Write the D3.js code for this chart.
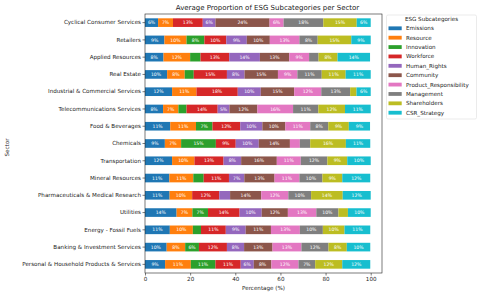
<!DOCTYPE html>
<html><head><meta charset="utf-8">
<script src="https://cdn.jsdelivr.net/npm/d3@7"></script>
<style>body{margin:0;background:#fff}svg{display:block;font-family:"DejaVu Sans",sans-serif}</style>
</head><body><svg id="c" width="480" height="295"></svg>
<script>
const sectors = ["Cyclical Consumer Services","Retailers","Applied Resources","Real Estate","Industrial & Commercial Services","Telecommunications Services","Food & Beverages","Chemicals","Transportation","Mineral Resources","Pharmaceuticals & Medical Research","Utilities","Energy - Fossil Fuels","Banking & Investment Services","Personal & Household Products & Services"];
const subcategories = ["Emissions","Resource","Innovation","Workforce","Human_Rights","Community","Product_Responsibility","Management","Shareholders","CSR_Strategy"];
const emissions = [5.8, 8.6, 8.2, 9.8, 12.0, 8.0, 11.2, 8.8, 12.0, 10.8, 10.9, 14.0, 11.0, 9.6, 8.9];
const resource = [6.6, 9.8, 11.8, 7.8, 10.8, 6.8, 11.4, 7.2, 9.9, 10.6, 10.0, 7.0, 10.2, 8.2, 11.4];
const innovation = [0, 7.9, 4.6, 4.0, 0, 3.6, 7.3, 15.4, 0, 4.6, 0, 6.9, 3.6, 6.1, 10.9];
const workforce = [13.2, 9.7, 12.7, 14.7, 18.3, 13.8, 12.3, 8.8, 12.9, 11.2, 12.0, 14.0, 11.0, 12.4, 11.2];
const humanRights = [5.6, 9.1, 13.6, 7.8, 10.2, 5.2, 9.8, 10.2, 7.8, 6.8, 4.8, 9.8, 8.8, 7.6, 5.8];
const community = [24.0, 10.2, 13.0, 14.8, 14.8, 12.4, 10.2, 13.8, 15.8, 13.4, 13.8, 11.6, 11.2, 12.6, 7.8];
const productResponsibility = [6.2, 13.1, 8.8, 8.6, 12.0, 15.8, 11.0, 4.4, 10.6, 11.0, 12.0, 12.6, 12.8, 12.8, 12.0];
const management = [17.6, 8.1, 4.2, 10.8, 12.8, 11.2, 8.0, 4.6, 11.8, 10.2, 10.1, 9.8, 10.2, 12.0, 7.4];
const shareholders = [14.8, 14.9, 8.4, 10.6, 2.8, 11.8, 9.1, 15.8, 8.8, 8.8, 14.0, 4.2, 9.6, 8.1, 12.0];
const csrStrategy = [6.2, 8.6, 14.4, 11.1, 6.3, 11.4, 9.4, 10.8, 10.4, 12.4, 12.4, 10.1, 11.4, 10.4, 12.4];
const xTicks = [0, 20, 40, 60, 80, 100];

const seriesValues = [emissions, resource, innovation, workforce, humanRights, community, productResponsibility, management, shareholders, csrStrategy];
const colors = ["#1f77b4","#ff7f0e","#2ca02c","#d62728","#9467bd","#8c564b","#e377c2","#7f7f7f","#bcbd22","#17becf"];

const table = sectors.map((s, i) => {
  const row = {sector: s};
  subcategories.forEach((k, j) => row[k] = seriesValues[j][i]);
  return row;
});
const stacked = d3.stack().keys(subcategories)(table);

const svg = d3.select("#c");
const L = 145, R = 382, T = 14, B = 273;
const x = d3.scaleLinear().domain([0, 105]).range([L, R]);
const y = d3.scaleBand().domain(sectors).range([T, B]).paddingInner(0.5).paddingOuter(0.25);
const color = d3.scaleOrdinal().domain(subcategories).range(colors);

const g = svg.append("g");
stacked.forEach(layer => {
  const lg = g.append("g").attr("fill", color(layer.key));
  lg.selectAll("rect").data(layer).join("rect")
    .attr("x", d => x(d[0]))
    .attr("width", d => x(d[1]) - x(d[0]))
    .attr("y", d => y(d.data.sector))
    .attr("height", y.bandwidth());
});
stacked.forEach(layer => {
  svg.append("g").selectAll("text").data(layer.filter(d => d[1] - d[0] >= 5)).join("text")
    .attr("x", d => (x(d[0]) + x(d[1])) / 2)
    .attr("y", d => y(d.data.sector) + y.bandwidth() / 2)
    .attr("dy", "0.35em")
    .attr("text-anchor", "middle")
    .attr("fill", "#fff")
    .attr("font-size", 4.6)
    .text(d => Math.round(d[1] - d[0]) + "%");
});

// frame
svg.append("rect").attr("x", L).attr("y", T).attr("width", R - L).attr("height", B - T)
  .attr("fill", "none").attr("stroke", "#222").attr("stroke-width", 0.6);

const xAxis = svg.append("g").attr("transform", `translate(0,${B})`)
  .call(d3.axisBottom(x).tickValues(xTicks).tickSize(2.5).tickPadding(1.5));
const yAxis = svg.append("g").attr("transform", `translate(${L},0)`)
  .call(d3.axisLeft(y).tickSize(2.5).tickPadding(1.5));
[xAxis, yAxis].forEach(a => {
  a.select(".domain").remove();
  a.selectAll("line").attr("stroke", "#222").attr("stroke-width", 0.6);
  a.selectAll("text").attr("font-size", 5.6).attr("fill", "#222").attr("font-family", "DejaVu Sans");
});

svg.append("text").attr("x", (L + R) / 2 + 4).attr("y", 10).attr("text-anchor", "middle")
  .attr("font-size", 7).attr("fill", "#222").text("Average Proportion of ESG Subcategories per Sector");
svg.append("text").attr("x", (L + R) / 2).attr("y", 290).attr("text-anchor", "middle")
  .attr("font-size", 5.6).attr("fill", "#222").text("Percentage (%)");
svg.append("text").attr("transform", `translate(9,${(T + B) / 2 + 4}) rotate(-90)`).attr("text-anchor", "middle")
  .attr("font-size", 5.6).attr("fill", "#222").text("Sector");

// legend
const lgd = svg.append("g");
lgd.append("rect").attr("x", 386.5).attr("y", 15).attr("width", 90).attr("height", 104).attr("rx", 1.5)
  .attr("fill", "#fff").attr("stroke", "#ddd").attr("stroke-width", 0.6);
lgd.append("text").attr("x", 431.5).attr("y", 19.5).attr("dy", "0.35em").attr("text-anchor", "middle")
  .attr("font-size", 5.6).attr("fill", "#222").text("ESG Subcategories");
const items = lgd.selectAll("g.item").data(subcategories).join("g").attr("class", "item")
  .attr("transform", (d, i) => `translate(0,${28.3 + i * 9.38})`);
items.append("rect").attr("x", 388.5).attr("y", -1.9).attr("width", 13.2).attr("height", 3.8).attr("fill", d => color(d));
items.append("text").attr("x", 406).attr("dy", "0.35em").attr("font-size", 5.6).attr("fill", "#222").text(d => d);
</script></body></html>
